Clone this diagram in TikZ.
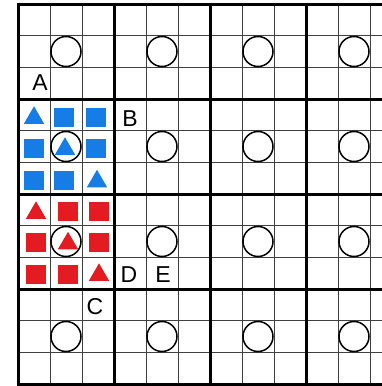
\documentclass[tikz,border=0pt]{standalone}
\usepackage{fontspec}
\setmainfont{Liberation Sans}
\definecolor{sqblue}{RGB}{22,124,230}
\definecolor{sqred}{RGB}{228,28,34}
\tikzset{
  thin grid/.style={draw=black!75, line width=1pt},
  thick grid/.style={draw=black, line width=3pt},
  ring/.style={circle, draw=black, line width=1.5pt, minimum size=30pt, inner sep=0pt},
  sq/.style={rectangle, minimum width=20pt, minimum height=19pt, inner sep=0pt},
  tri/.style={regular polygon, regular polygon sides=3, minimum size=23.5pt, inner sep=0pt},
  lbl/.style={font=\fontsize{23}{23}\selectfont, inner sep=0pt}
}
\usetikzlibrary{shapes.geometric}
\begin{document}
\begin{tikzpicture}[x=1pt,y=-1pt]
\useasboundingbox (0,0) rectangle (382,386);
\fill[white] (0,0) rectangle (382,386);
% thin grid lines
\foreach \i in {1,...,11} {
  \draw[thin grid] ({18+32*\i},4) -- ({18+32*\i},384);
}
\foreach \j in {1,...,11} {
  \draw[thin grid] (18,{4+31.667*\j}) -- (382,{4+31.667*\j});
}
% thick grid lines
\foreach \i in {0,1,2,3} {
  \draw[thick grid] ({18+96*\i},2.5) -- ({18+96*\i},385.5);
}
\foreach \j in {0,1,2,3,4} {
  \draw[thick grid] (16.5,{4+95*\j}) -- (382,{4+95*\j});
}
% circles
\foreach \i in {0,1,2,3} {
  \foreach \j in {0,1,2,3} {
    \node[ring] (c\i\j) at ({66+96*\i},{51.5+95*\j}) {};
  }
}
% blue block
\begin{scope}[every node/.append style={fill=sqblue}]
\node[tri] (bt1) at (34,118) {};
\node[sq]  (bs1) at (64,117) {};
\node[sq]  (bs2) at (96,117) {};
\node[sq]  (bs3) at (34,148) {};
\node[tri] (bt2) at (65,149) {};
\node[sq]  (bs4) at (96,148) {};
\node[sq]  (bs5) at (34,180) {};
\node[sq]  (bs6) at (64,180) {};
\node[tri] (bt3) at (97,181.5) {};
\end{scope}
% red block
\begin{scope}[every node/.append style={fill=sqred}]
\node[tri] (rt1) at (36,213) {};
\node[sq]  (rs1) at (68,211) {};
\node[sq]  (rs2) at (99,211) {};
\node[sq]  (rs3) at (36,242) {};
\node[tri] (rt2) at (68,243.5) {};
\node[sq]  (rs4) at (99,242) {};
\node[sq]  (rs5) at (36,274) {};
\node[sq]  (rs6) at (68,274) {};
\node[tri] (rt3) at (99,275) {};
\end{scope}
% labels
\node[lbl] (la) at (40,83) {A};
\node[lbl] (lb) at (130,118.5) {B};
\node[lbl] (lc) at (95,307) {C};
\node[lbl] (ld) at (129,274.5) {D};
\node[lbl] (le) at (163,274.5) {E};
\end{tikzpicture}
\end{document}
